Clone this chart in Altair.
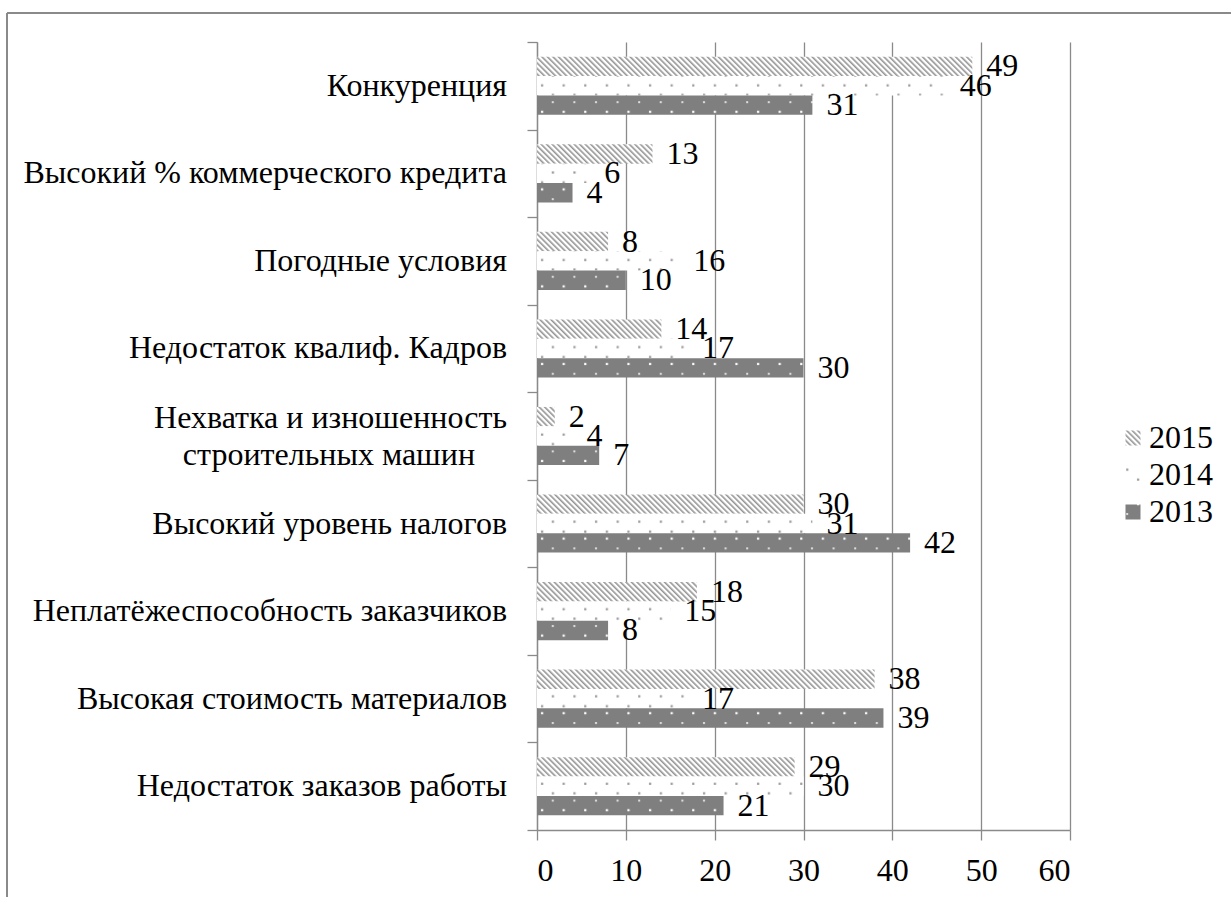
import altair as alt
import jinja2
import pandas as pd

# Obstacles to construction business, share of respondents (%), by year
categories = [
    "Конкуренция",
    "Высокий % коммерческого кредита",
    "Погодные условия",
    "Недостаток квалиф. Кадров",
    "Нехватка и изношенность|строительных машин\u00a0\u00a0\u00a0\u00a0\u200b",
    "Высокий уровень налогов",
    "Неплатёжеспособность заказчиков",
    "Высокая стоимость материалов",
    "Недостаток заказов работы",
]
years = ["2015", "2014", "2013"]
values_2015 = [49, 13, 8, 14, 2, 30, 18, 38, 29]
values_2014 = [46, 6, 16, 17, 4, 31, 15, 17, 30]
values_2013 = [31, 4, 10, 30, 7, 42, 8, 39, 21]

series = {"2015": values_2015, "2014": values_2014, "2013": values_2013}
rows = []
for year in years:
    for cat, val in zip(categories, series[year]):
        rows.append({"category": cat, "year": year, "value": val})
df = pd.DataFrame(rows)
cat_df = pd.DataFrame({"category": categories})

FONT = "Liberation Serif, Times New Roman, Tinos, DejaVu Serif, serif"
FS = 32
GREY = "#8a8a8a"
W, H = 533, 788

# fills refer to SVG patterns defined in the page
fills = ["url(#pat2015)", "url(#pat2014)", "url(#pat2013)"]

y_scale = alt.Scale(domain=categories, paddingInner=0, paddingOuter=0)

y_enc = alt.Y(
    "category:N",
    sort=categories,
    scale=y_scale,
    axis=alt.Axis(
        title=None,
        labels=False,
        tickBand="extent",
        tickSize=10,
        tickColor=GREY,
        tickWidth=1.3,
        domainColor=GREY,
        domainWidth=1.3,
        grid=False,
    ),
)
yoff_enc = alt.YOffset(
    "year:N", sort=years, scale=alt.Scale(paddingInner=0, paddingOuter=0.76)
)
x_enc = alt.X(
    "value:Q",
    scale=alt.Scale(domain=[0, 60], nice=False),
    axis=alt.Axis(
        title=None,
        values=[0, 10, 20, 30, 40, 50, 60],
        format="d",
        labelFont=FONT,
        labelFontSize=FS,
        labelColor="black",
        labelPadding=15,
        tickSize=10,
        tickColor=GREY,
        tickWidth=1.3,
        domainColor=GREY,
        domainWidth=1.3,
        grid=True,
        gridColor=GREY,
        gridWidth=1.3,
    ),
)

bars = alt.Chart(df).mark_bar(strokeWidth=0).encode(
    y=y_enc,
    yOffset=yoff_enc,
    x=x_enc,
    fill=alt.Fill(
        "year:N",
        sort=years,
        scale=alt.Scale(domain=years, range=fills),
        legend=alt.Legend(
            title=None,
            orient="none",
            legendX=580,
            legendY=380,
            symbolType="square",
            symbolSize=225,
            symbolStrokeWidth=0,
            labelFont=FONT,
            labelFontSize=FS,
            labelColor="black",
            labelOffset=0,
            rowPadding=5,
            padding=0,
        ),
    ),
)

values_text = alt.Chart(df).mark_text(
    align="left", baseline="middle", dx=14, font=FONT, fontSize=FS, color="black"
).encode(
    y=alt.Y("category:N", sort=categories),
    yOffset=alt.YOffset("year:N", sort=years),
    x=alt.X("value:Q"),
    text=alt.Text("value:Q"),
)

# category names left of the axis; the two-line one is lifted to stay centred
cat_single = alt.Chart(cat_df).transform_filter(
    "indexof(datum.category, '|') < 0"
).mark_text(
    align="right", baseline="middle", font=FONT, fontSize=FS, color="black"
).encode(
    y=alt.Y("category:N", sort=categories),
    x=alt.value(-30),
    text="category:N",
)
cat_double = alt.Chart(cat_df).transform_filter(
    "indexof(datum.category, '|') >= 0"
).mark_text(
    align="right", baseline="middle", font=FONT, fontSize=FS, color="black",
    lineBreak="|", lineHeight=37, dy=-18,
).encode(
    y=alt.Y("category:N", sort=categories),
    x=alt.value(-30),
    text="category:N",
)

# outer frame of the figure
frame_left = alt.Chart(cat_df).mark_rule(color=GREY, strokeWidth=2).encode(
    x=alt.value(-530), y=alt.value(-29), y2=alt.value(H + 80)
)
frame_top = alt.Chart(cat_df).mark_rule(color=GREY, strokeWidth=2).encode(
    x=alt.value(-530), x2=alt.value(W + 170), y=alt.value(-29)
)

chart = (
    alt.layer(bars, values_text, cat_single, cat_double, frame_left, frame_top)
    .properties(
        width=W,
        height=H,
        autosize=alt.AutoSizeParams(type="none"),
        padding={"left": 537, "top": 42, "right": 161, "bottom": 67},
        background="white",
    )
    .configure_view(strokeWidth=0)
)

PAGE = jinja2.Template("""<!DOCTYPE html>
<html>
<head>
  <meta charset="utf-8">
  <style>
    body { margin: 0; }
    #{{ output_div }}.vega-embed { width: 100%; display: flex; }
  </style>
  <script type="text/javascript" src="{{ base_url }}/vega@{{ vega_version }}"></script>
  <script type="text/javascript" src="{{ base_url }}/vega-lite@{{ vegalite_version }}"></script>
  <script type="text/javascript" src="{{ base_url }}/vega-embed@{{ vegaembed_version }}"></script>
</head>
<body>
  <svg width="0" height="0" style="position:absolute">
    <defs>
      <pattern id="pat2015" patternUnits="userSpaceOnUse" width="3.9" height="3.9" patternTransform="rotate(-45)">
        <rect width="3.9" height="3.9" fill="#ffffff"/>
        <rect width="1.6" height="3.9" fill="#959595"/>
      </pattern>
      <pattern id="pat2014" patternUnits="userSpaceOnUse" width="21.6" height="19.4">
        <rect width="21.6" height="19.4" fill="#ffffff"/>
        <rect x="4" y="3.5" width="2.2" height="2.2" fill="#999999"/>
        <rect x="14.8" y="13" width="2.2" height="2.2" fill="#999999"/>
      </pattern>
      <pattern id="pat2013" patternUnits="userSpaceOnUse" width="21.6" height="19.4">
        <rect width="21.6" height="19.4" fill="#7f7f7f"/>
        <rect x="14.8" y="1" width="2" height="2" fill="#e0e0e0"/>
        <rect x="4" y="10.5" width="2.2" height="2.2" fill="#ffffff"/>
      </pattern>
    </defs>
  </svg>
  <div id="{{ output_div }}"></div>
  <script type="text/javascript">
    var spec = {{ spec }};
    var embedOpt = {{ embed_options }};
    vegaEmbed("#{{ output_div }}", spec, embedOpt).catch(console.error);
  </script>
</body>
</html>
""")

chart.save(
    "out.html",
    embed_options={"renderer": "svg", "actions": False},
    template=PAGE,
)
